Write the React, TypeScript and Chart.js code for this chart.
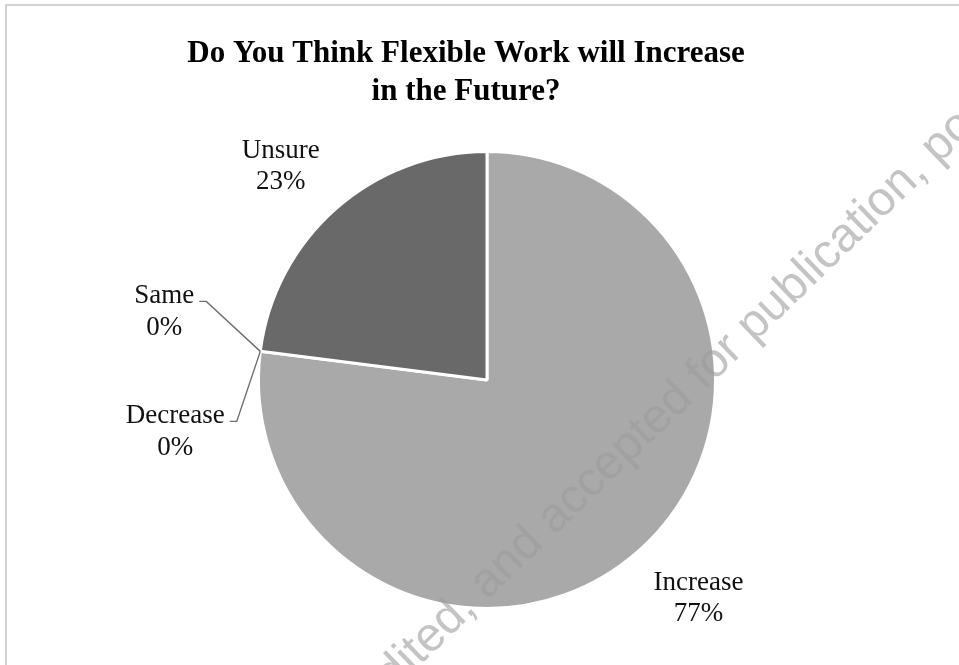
import React, { useEffect, useRef } from "react";
import { Chart, registerables } from "chart.js";

Chart.register(...registerables);

// ---- data ----
const categories = ["Increase", "Decrease", "Same", "Unsure"];
const values = [77, 0, 0, 23];
const percentLabels = ["77%", "0%", "0%", "23%"];
const titleLines = ["Do You Think Flexible Work will Increase", "in the Future?"];
const watermarkText = "edited, and accepted for publication, portion";

// ---- styles ----
const sliceColors = ["#a9a9a9", "#8a8a8a", "#7a7a7a", "#696969"];
const labelFont = '27px "Liberation Serif", "Times New Roman", serif';
const titleFont = 'bold 31px "Liberation Serif", "Times New Roman", serif';

const W = 959;
const H = 665;

export default function App() {
  const ref = useRef<HTMLCanvasElement | null>(null);

  useEffect(() => {
    const canvas = ref.current;
    if (!canvas) return;

    const framePlugin = {
      id: "frame",
      beforeDraw(chart: any) {
        const ctx = chart.ctx;
        ctx.save();
        ctx.fillStyle = "#ffffff";
        ctx.fillRect(0, 0, chart.width, chart.height);
        ctx.strokeStyle = "#d2d2d2";
        ctx.lineWidth = 2;
        ctx.strokeRect(6, 5, chart.width + 20, chart.height + 20);
        ctx.restore();
      },
    };

    const labelPlugin = {
      id: "sliceLabels",
      afterDatasetsDraw(chart: any) {
        const ctx = chart.ctx;
        const meta = chart.getDatasetMeta(0);
        ctx.save();
        ctx.font = labelFont;
        ctx.fillStyle = "#111111";
        ctx.textAlign = "center";
        ctx.textBaseline = "alphabetic";

        // title
        ctx.save();
        ctx.font = titleFont;
        ctx.fillStyle = "#000000";
        ctx.fillText(titleLines[0], 466, 62);
        ctx.fillText(titleLines[1], 466, 100);
        ctx.restore();

        const place: Record<number, { k: number; dx: number; dy: number }> = {
          0: { k: 1.32, dx: 12, dy: -10 },
          3: { k: 1.305, dx: -9, dy: 8 },
        };
        const zeroPlace: Record<number, { dx: number; dy: number }> = {
          2: { dx: -96, dy: -48 },
          1: { dx: -85, dy: 72 },
        };

        meta.data.forEach((arc: any, i: number) => {
          const p = arc.getProps(["x", "y", "startAngle", "endAngle", "outerRadius"], true);
          if (values[i] > 0) {
            const mid = (p.startAngle + p.endAngle) / 2;
            const cfg = place[i];
            const cx = p.x + Math.cos(mid) * p.outerRadius * cfg.k + cfg.dx;
            const cy = p.y + Math.sin(mid) * p.outerRadius * cfg.k + cfg.dy;
            ctx.fillText(categories[i], cx, cy - 6);
            ctx.fillText(percentLabels[i], cx, cy + 25);
          } else {
            const ax = p.x + Math.cos(p.startAngle) * p.outerRadius;
            const ay = p.y + Math.sin(p.startAngle) * p.outerRadius;
            const cfg = zeroPlace[i];
            const tx = ax + cfg.dx;
            const ty = ay + cfg.dy;
            ctx.fillText(categories[i], tx, ty);
            ctx.fillText(percentLabels[i], tx, ty + 32);
            const wTxt = ctx.measureText(categories[i]).width;
            const right = tx + wTxt / 2;
            ctx.save();
            ctx.strokeStyle = "#6e6e6e";
            ctx.lineWidth = 1.4;
            ctx.beginPath();
            ctx.moveTo(right + 5, ty - 2);
            ctx.lineTo(right + 12, ty - 2);
            ctx.lineTo(ax, ay);
            ctx.stroke();
            ctx.restore();
          }
        });
        ctx.restore();
      },
      afterDraw(chart: any) {
        const ctx = chart.ctx;
        ctx.save();
        ctx.translate(374, 710);
        ctx.rotate((-44 * Math.PI) / 180);
        ctx.font = '48px "Liberation Sans", Arial, sans-serif';
        ctx.fillStyle = "rgba(157,157,157,0.6)";
        ctx.textAlign = "left";
        ctx.textBaseline = "alphabetic";
        ctx.fillText(watermarkText, 0, 0);
        ctx.restore();
      },
    };

    const chart = new Chart(canvas, {
      type: "pie",
      data: {
        labels: categories,
        datasets: [
          {
            data: values,
            backgroundColor: sliceColors,
            borderColor: "#ffffff",
            borderWidth: 3,
          },
        ],
      },
      options: {
        responsive: false,
        animation: false,
        devicePixelRatio: 1,
        layout: {
          padding: { top: 150, bottom: 55, left: 257, right: 242 },
        },
        plugins: {
          legend: { display: false },
          tooltip: { enabled: false },
          title: { display: false },
        },
      },
      plugins: [framePlugin, labelPlugin],
    });

    return () => chart.destroy();
  }, []);

  return (
    <div style={{ position: "fixed", left: 0, top: 0, width: W, height: H, background: "#fff" }}>
      <canvas ref={ref} width={W} height={H} style={{ width: W, height: H, display: "block" }} />
    </div>
  );
}
